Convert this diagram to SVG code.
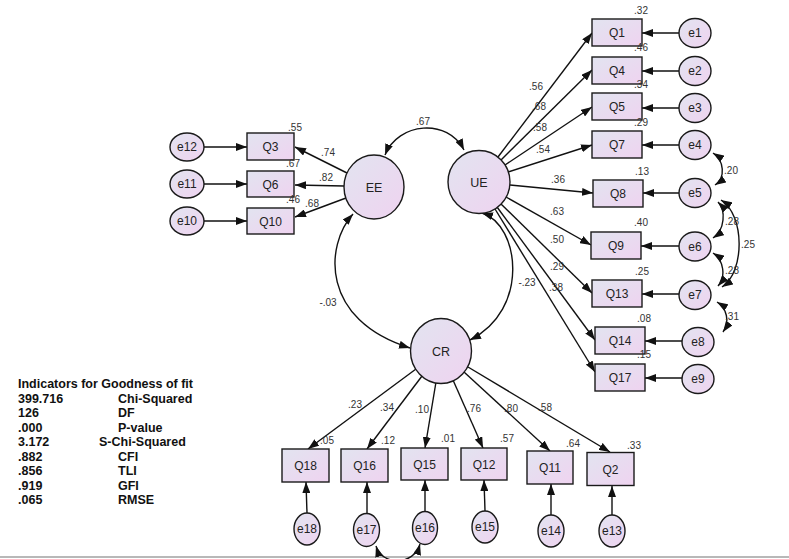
<svg xmlns="http://www.w3.org/2000/svg" width="789" height="559" viewBox="0 0 789 559">
<style>
.nd{fill:url(#g);stroke:#1a1a1a;stroke-width:1.4}
.lb{font-family:"Liberation Sans",Arial,sans-serif;font-size:12px;fill:#222;text-anchor:middle}
.lt{font-family:"Liberation Sans",Arial,sans-serif;font-size:12.5px;fill:#222;text-anchor:middle}
.nm{font-family:"Liberation Sans",Arial,sans-serif;font-size:10px;fill:#333;text-anchor:middle}
.cn{fill:none;stroke:#111;stroke-width:1.4}
.ar{marker-end:url(#ah)}
.cv{marker-start:url(#ah);marker-end:url(#ah)}
.tb{font-family:"Liberation Sans",Arial,sans-serif;font-size:12.5px;font-weight:bold;fill:#111}
</style>
<defs>
<linearGradient id="g" x1="0" y1="0" x2="1" y2="1">
<stop offset="0" stop-color="#e2e4f0"/>
<stop offset="1" stop-color="#efd3f0"/>
</linearGradient>
<marker id="ah" markerUnits="userSpaceOnUse" markerWidth="11" markerHeight="8" refX="11" refY="4" orient="auto-start-reverse">
<path d="M0,0 L11,4 L0,8 z" fill="#111"/>
</marker>
</defs>
<rect width="789" height="559" fill="#fff"/>
<line x1="0" y1="557" x2="789" y2="557" stroke="#a0a0a0" stroke-width="1.5"/>

<g id="connectors">
<line class="cn ar" x1="498" y1="157" x2="592" y2="33"/>
<line class="cn ar" x1="501" y1="160" x2="592" y2="70"/>
<line class="cn ar" x1="505" y1="165" x2="592" y2="107"/>
<line class="cn ar" x1="508" y1="172" x2="592" y2="145"/>
<line class="cn ar" x1="510" y1="185" x2="593" y2="193"/>
<line class="cn ar" x1="506" y1="197" x2="591" y2="245"/>
<line class="cn ar" x1="501" y1="204" x2="592" y2="293"/>
<line class="cn ar" x1="497" y1="207" x2="595" y2="340"/>
<line class="cn ar" x1="495" y1="209" x2="595" y2="372"/>
<line class="cn ar" x1="347" y1="173" x2="295" y2="147"/>
<line class="cn ar" x1="344" y1="186" x2="295" y2="185"/>
<line class="cn ar" x1="346" y1="198" x2="295" y2="217"/>
<line class="cn ar" x1="416" y1="369" x2="308" y2="449"/>
<line class="cn ar" x1="422" y1="376" x2="367" y2="449"/>
<line class="cn ar" x1="436" y1="382" x2="425" y2="448"/>
<line class="cn ar" x1="453" y1="380" x2="483" y2="448"/>
<line class="cn ar" x1="464" y1="372" x2="550" y2="451"/>
<line class="cn ar" x1="468" y1="367" x2="610" y2="452"/>
<line class="cn ar" x1="679" y1="33" x2="642" y2="33"/>
<line class="cn ar" x1="679" y1="71" x2="642" y2="71"/>
<line class="cn ar" x1="679" y1="108" x2="642" y2="108"/>
<line class="cn ar" x1="679" y1="145" x2="642" y2="145"/>
<line class="cn ar" x1="679" y1="193" x2="643" y2="193"/>
<line class="cn ar" x1="679" y1="246" x2="641" y2="246"/>
<line class="cn ar" x1="679" y1="294" x2="642" y2="294"/>
<line class="cn ar" x1="682" y1="341" x2="645" y2="341"/>
<line class="cn ar" x1="682" y1="378" x2="645" y2="378"/>
<line class="cn ar" x1="204" y1="147" x2="247" y2="147"/>
<line class="cn ar" x1="204" y1="184" x2="247" y2="184"/>
<line class="cn ar" x1="204" y1="221" x2="247" y2="221"/>
<line class="cn ar" x1="307" y1="513" x2="306" y2="482"/>
<line class="cn ar" x1="367" y1="514" x2="367" y2="482"/>
<line class="cn ar" x1="425" y1="512" x2="425" y2="480"/>
<line class="cn ar" x1="485" y1="511" x2="484" y2="480"/>
<line class="cn ar" x1="551" y1="515" x2="551" y2="484"/>
<line class="cn ar" x1="612" y1="515" x2="612" y2="486"/>
<path class="cn cv" d="M385,155 C398,122 448,118 464,150"/>
<path class="cn cv" d="M353,214 C325,245 320,320 410,348"/>
<path class="cn cv" d="M482,213 C520,225 530,310 470,340"/>
<path class="cn cv" d="M713,153 C724,160 726,178 715,185"/>
<path class="cn cv" d="M718,202 C726,210 725,230 713,238"/>
<path class="cn cv" d="M713,253 C724,260 726,277 718,286"/>
<path class="cn cv" d="M721,200 C745,215 745,272 722,287"/>
<path class="cn cv" d="M717,302 C727,308 730,322 723,332"/>
<path class="cn cv" d="M376,546 C382,566 414,566 420,544"/>
</g>

<g id="EE"><ellipse class="nd" cx="374" cy="187" rx="30" ry="32"/><text class="lt" x="374" y="192">EE</text></g>
<g id="UE"><ellipse class="nd" cx="479" cy="182" rx="31" ry="31.5"/><text class="lt" x="479" y="187">UE</text></g>
<g id="CR"><ellipse class="nd" cx="441" cy="351" rx="30.5" ry="32.5"/><text class="lt" x="441" y="356">CR</text></g>

<g id="Q1"><rect class="nd" x="592" y="19" width="50" height="27"/><text class="lb" x="617" y="37">Q1</text></g>
<g id="Q4"><rect class="nd" x="592" y="57" width="50" height="27"/><text class="lb" x="617" y="75">Q4</text></g>
<g id="Q5"><rect class="nd" x="592" y="93" width="50" height="27"/><text class="lb" x="617" y="111">Q5</text></g>
<g id="Q7"><rect class="nd" x="592" y="131" width="50" height="27"/><text class="lb" x="617" y="149">Q7</text></g>
<g id="Q8"><rect class="nd" x="593" y="180" width="50" height="27"/><text class="lb" x="618" y="198">Q8</text></g>
<g id="Q9"><rect class="nd" x="591" y="232" width="50" height="27"/><text class="lb" x="616" y="250">Q9</text></g>
<g id="Q13"><rect class="nd" x="592" y="280" width="50" height="27"/><text class="lb" x="617" y="298">Q13</text></g>
<g id="Q14"><rect class="nd" x="595" y="327" width="50" height="27"/><text class="lb" x="620" y="345">Q14</text></g>
<g id="Q17"><rect class="nd" x="595" y="364" width="50" height="27"/><text class="lb" x="620" y="382">Q17</text></g>

<g id="e1"><ellipse class="nd" cx="695" cy="33" rx="16" ry="14.5"/><text class="lb" x="695" y="37">e1</text></g>
<g id="e2"><ellipse class="nd" cx="695" cy="71" rx="16" ry="14.5"/><text class="lb" x="695" y="75">e2</text></g>
<g id="e3"><ellipse class="nd" cx="695" cy="108" rx="16" ry="14.5"/><text class="lb" x="695" y="112">e3</text></g>
<g id="e4"><ellipse class="nd" cx="695" cy="145" rx="16" ry="14.5"/><text class="lb" x="695" y="149">e4</text></g>
<g id="e5"><ellipse class="nd" cx="695" cy="193" rx="16" ry="14.5"/><text class="lb" x="695" y="197">e5</text></g>
<g id="e6"><ellipse class="nd" cx="695" cy="246.5" rx="16" ry="14.5"/><text class="lb" x="695" y="250.5">e6</text></g>
<g id="e7"><ellipse class="nd" cx="695" cy="295" rx="16" ry="14.5"/><text class="lb" x="695" y="299">e7</text></g>
<g id="e8"><ellipse class="nd" cx="698" cy="342" rx="16" ry="14.5"/><text class="lb" x="698" y="346">e8</text></g>
<g id="e9"><ellipse class="nd" cx="698" cy="379" rx="16" ry="14.5"/><text class="lb" x="698" y="383">e9</text></g>

<g id="Q3"><rect class="nd" x="247" y="133" width="47" height="27"/><text class="lb" x="270.5" y="151">Q3</text></g>
<g id="Q6"><rect class="nd" x="247" y="171" width="47" height="26"/><text class="lb" x="270.5" y="188.5">Q6</text></g>
<g id="Q10"><rect class="nd" x="247" y="208" width="47" height="26"/><text class="lb" x="270.5" y="225.5">Q10</text></g>
<g id="e12"><ellipse class="nd" cx="187" cy="147" rx="17" ry="14"/><text class="lb" x="187" y="151">e12</text></g>
<g id="e11"><ellipse class="nd" cx="187" cy="184" rx="17" ry="14"/><text class="lb" x="187" y="188">e11</text></g>
<g id="e10"><ellipse class="nd" cx="187" cy="221" rx="17" ry="14"/><text class="lb" x="187" y="225">e10</text></g>

<g id="Q18"><rect class="nd" x="282" y="449" width="47" height="33"/><text class="lb" x="305.5" y="470">Q18</text></g>
<g id="Q16"><rect class="nd" x="341" y="449" width="47" height="33"/><text class="lb" x="364.5" y="470">Q16</text></g>
<g id="Q15"><rect class="nd" x="401" y="448" width="47" height="32"/><text class="lb" x="424.5" y="468.5">Q15</text></g>
<g id="Q12"><rect class="nd" x="461" y="448" width="46" height="32"/><text class="lb" x="484" y="468.5">Q12</text></g>
<g id="Q11"><rect class="nd" x="527" y="451" width="46" height="33"/><text class="lb" x="550" y="472">Q11</text></g>
<g id="Q2"><rect class="nd" x="587" y="452.5" width="47" height="33"/><text class="lb" x="610.5" y="473.5">Q2</text></g>

<g id="e18"><ellipse class="nd" cx="307" cy="529" rx="13" ry="16"/><text class="lb" x="307" y="533">e18</text></g>
<g id="e17"><ellipse class="nd" cx="366.5" cy="530" rx="13" ry="16.5"/><text class="lb" x="366.5" y="534">e17</text></g>
<g id="e16"><ellipse class="nd" cx="425" cy="528" rx="12.5" ry="16.5"/><text class="lb" x="425" y="532">e16</text></g>
<g id="e15"><ellipse class="nd" cx="485" cy="527" rx="13" ry="16"/><text class="lb" x="485" y="531">e15</text></g>
<g id="e14"><ellipse class="nd" cx="551" cy="531" rx="13" ry="16"/><text class="lb" x="551" y="535">e14</text></g>
<g id="e13"><ellipse class="nd" cx="612" cy="531" rx="13" ry="16"/><text class="lb" x="612" y="535">e13</text></g>

<g id="labels">
<text class="nm" x="641" y="13.5">.32</text>
<text class="nm" x="641" y="50.5">.46</text>
<text class="nm" x="641" y="87.5">.34</text>
<text class="nm" x="641" y="125.5">.29</text>
<text class="nm" x="642" y="174.5">.13</text>
<text class="nm" x="641" y="225.5">.40</text>
<text class="nm" x="642" y="274.5">.25</text>
<text class="nm" x="644" y="321.5">.08</text>
<text class="nm" x="644" y="357.5">.15</text>
<text class="nm" x="536" y="89.5">.56</text>
<text class="nm" x="539" y="109.5">.68</text>
<text class="nm" x="540" y="130.5">.58</text>
<text class="nm" x="543" y="152.5">.54</text>
<text class="nm" x="558" y="182.5">.36</text>
<text class="nm" x="557" y="214.5">.63</text>
<text class="nm" x="557" y="242.5">.50</text>
<text class="nm" x="557" y="269.5">.29</text>
<text class="nm" x="556" y="290.5">.38</text>
<text class="nm" x="731" y="173.5">.20</text>
<text class="nm" x="732" y="225">.28</text>
<text class="nm" x="748" y="248">.25</text>
<text class="nm" x="732" y="273.5">.28</text>
<text class="nm" x="732" y="320">.31</text>
<text class="nm" x="295" y="130.5">.55</text>
<text class="nm" x="328" y="155.5">.74</text>
<text class="nm" x="293" y="166.5">.67</text>
<text class="nm" x="326" y="180.5">.82</text>
<text class="nm" x="293" y="202.5">.46</text>
<text class="nm" x="312" y="206.5">.68</text>
<text class="nm" x="423" y="124.5">.67</text>
<text class="nm" x="328" y="305.5">-.03</text>
<text class="nm" x="527" y="285.5">-.23</text>
<text class="nm" x="355" y="407.5">.23</text>
<text class="nm" x="387" y="410.5">.34</text>
<text class="nm" x="422" y="412.5">.10</text>
<text class="nm" x="474" y="411.5">.76</text>
<text class="nm" x="511" y="411.5">.80</text>
<text class="nm" x="545" y="410.5">.58</text>
<text class="nm" x="327" y="443.5">.05</text>
<text class="nm" x="388" y="443.5">.12</text>
<text class="nm" x="448" y="441.5">.01</text>
<text class="nm" x="507" y="441.5">.57</text>
<text class="nm" x="573" y="446.5">.64</text>
<text class="nm" x="634" y="448.5">.33</text>
</g>

<g id="fit-table">
<text class="tb" x="18" y="388">Indicators for Goodness of fit</text>
<text class="tb" x="18" y="402.5">399.716</text><text class="tb" x="118" y="402.5">Chi-Squared</text>
<text class="tb" x="18" y="417">126</text><text class="tb" x="118" y="417">DF</text>
<text class="tb" x="18" y="431.5">.000</text><text class="tb" x="118" y="431.5">P-value</text>
<text class="tb" x="18" y="446">3.172</text><text class="tb" x="99" y="446">S-Chi-Squared</text>
<text class="tb" x="18" y="460.5">.882</text><text class="tb" x="118" y="460.5">CFI</text>
<text class="tb" x="18" y="475">.856</text><text class="tb" x="118" y="475">TLI</text>
<text class="tb" x="18" y="489.5">.919</text><text class="tb" x="118" y="489.5">GFI</text>
<text class="tb" x="18" y="504">.065</text><text class="tb" x="118" y="504">RMSE</text>
</g>
</svg>
